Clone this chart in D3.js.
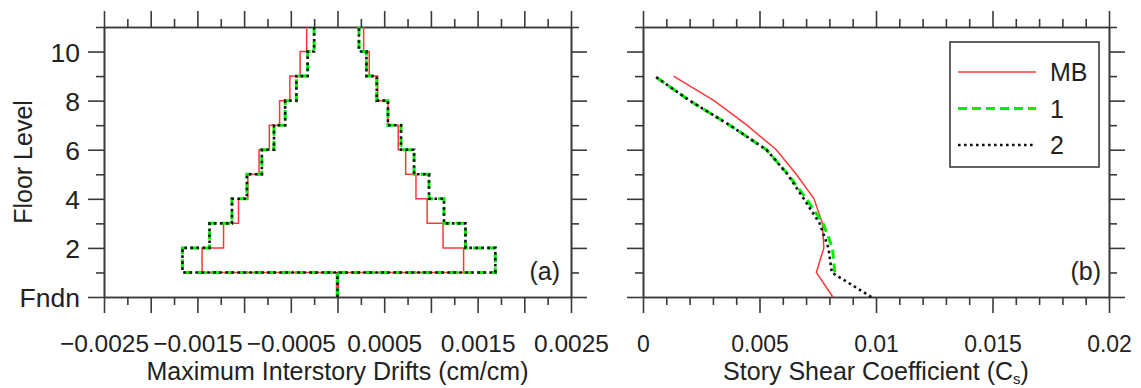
<!DOCTYPE html>
<html><head><meta charset="utf-8">
<script src="https://cdn.jsdelivr.net/npm/d3@7/dist/d3.min.js"></script>
<style>
body{margin:0;background:#fff}
svg{display:block}
text{font-family:"Liberation Sans",Arial,Helvetica,sans-serif;fill:#222}
</style>
</head><body>
<svg id="chart" width="1141" height="388"></svg>
<script>
// ---------- data ----------
// story k spans floor level k .. k+1 (story 0 = foundation to level 1)
const storyBase   = [0, 1, 2, 3, 4, 5, 6, 7, 8, 9, 10];
const driftMBPos  = [0, 0.00135, 0.00113, 0.00096, 0.00084, 0.00073, 0.00065, 0.00054, 0.00043, 0.00034, 0.00028];
const driftMBNeg  = [0, -0.00145, -0.00122, -0.00106, -0.00096, -0.00084, -0.00073, -0.00062, -0.00051, -0.00040, -0.00033];
const drift1Pos   = [0, 0.00169, 0.00137, 0.00114, 0.00098, 0.00082, 0.00068, 0.00054, 0.00042, 0.00031, 0.00023];
const drift1Neg   = [0, -0.00166, -0.00137, -0.00113, -0.00097, -0.00081, -0.00068, -0.00056, -0.00044, -0.00032, -0.00025];
const drift2Pos   = [0, 0.00169, 0.00137, 0.00114, 0.00098, 0.00082, 0.00068, 0.00054, 0.00042, 0.00031, 0.00023];
const drift2Neg   = [0, -0.00166, -0.00137, -0.00113, -0.00097, -0.00081, -0.00068, -0.00056, -0.00044, -0.00032, -0.00025];

const shearFloors = [0, 1, 2, 3, 4, 5, 6, 7, 8, 9];
const shearMB     = [0.00815, 0.00744, 0.00776, 0.00770, 0.00734, 0.00658, 0.00572, 0.00446, 0.00305, 0.00131];
const shear1      = [null, 0.00823, 0.00813, 0.00773, 0.00701, 0.00622, 0.00530, 0.00372, 0.00200, 0.00050];
const shear2      = [0.00980, 0.00810, 0.00796, 0.00758, 0.00690, 0.00620, 0.00530, 0.00372, 0.00200, 0.00050];

const seriesNames = ["MB", "1", "2"];

const floorMajor  = [0, 2, 4, 6, 8, 10];
const floorMinor  = [1, 3, 5, 7, 9, 11];
const floorLabels = ["Fndn", "2", "4", "6", "8", "10"];

const driftMajor  = [-0.0025, -0.002, -0.0015, -0.001, -0.0005, 0, 0.0005, 0.001, 0.0015, 0.002, 0.0025];
const driftMinor  = [-0.00225, -0.00175, -0.00125, -0.00075, -0.00025, 0.00025, 0.00075, 0.00125, 0.00175, 0.00225];
const driftLabelValues = [-0.0025, -0.0015, -0.0005, 0.0005, 0.0015, 0.0025];
const driftLabels = ["\u22120.0025", "\u22120.0015", "\u22120.0005", "0.0005", "0.0015", "0.0025"];

const shearMajor  = [0, 0.005, 0.01, 0.015, 0.02];
const shearMinor  = [0.001, 0.002, 0.003, 0.004, 0.006, 0.007, 0.008, 0.009, 0.011, 0.012, 0.013, 0.014, 0.016, 0.017, 0.018, 0.019];
const shearLabels = ["0", "0.005", "0.01", "0.015", "0.02"];

// ---------- styles ----------
const styles = {
  "MB": {stroke: "#ff3838", width: 1.5, dash: null},
  "1":  {stroke: "#00ee00", width: 3, dash: "9,5"},
  "2":  {stroke: "#111111", width: 2.6, dash: "2.6,3.4"}
};
const axisColor = "#3a3a3a";

const svg = d3.select("#chart");
svg.append("rect").attr("width", 1141).attr("height", 388).attr("fill", "#fff");

const plotTop = 27, plotBottom = 297;
const yScale = d3.scaleLinear().domain([0, 11]).range([plotBottom, plotTop]);
const xLeft  = d3.scaleLinear().domain([-0.0025, 0.0025]).range([104, 571]);
const xRight = d3.scaleLinear().domain([0, 0.02]).range([643, 1109]);

function styleAxis(g) {
  g.selectAll("path.domain").attr("stroke", axisColor).attr("stroke-width", 1.6);
  g.selectAll(".tick line").attr("stroke", axisColor).attr("stroke-width", 1.6);
  g.selectAll("text").remove();
}

function drawFrame(x, y, xMaj, xMin, yMaj, yMin) {
  const [x0, x1] = x.range();
  const [y0, y1] = [plotBottom, plotTop];
  const g = svg.append("g");
  g.append("g").attr("transform", `translate(0,${y0})`)
    .call(d3.axisBottom(x).tickValues(xMin).tickSize(8).tickSizeOuter(0)).call(styleAxis);
  g.append("g").attr("transform", `translate(0,${y0})`)
    .call(d3.axisBottom(x).tickValues(xMaj).tickSize(16).tickSizeOuter(0)).call(styleAxis);
  g.append("g").attr("transform", `translate(0,${y1})`)
    .call(d3.axisTop(x).tickValues(xMin).tickSize(8).tickSizeOuter(0)).call(styleAxis);
  g.append("g").attr("transform", `translate(0,${y1})`)
    .call(d3.axisTop(x).tickValues(xMaj).tickSize(16).tickSizeOuter(0)).call(styleAxis);
  g.append("g").attr("transform", `translate(${x0},0)`)
    .call(d3.axisLeft(y).tickValues(yMin).tickSize(8).tickSizeOuter(0)).call(styleAxis);
  g.append("g").attr("transform", `translate(${x0},0)`)
    .call(d3.axisLeft(y).tickValues(yMaj).tickSize(16).tickSizeOuter(0)).call(styleAxis);
  g.append("g").attr("transform", `translate(${x1},0)`)
    .call(d3.axisRight(y).tickValues(yMin).tickSize(8).tickSizeOuter(0)).call(styleAxis);
  g.append("g").attr("transform", `translate(${x1},0)`)
    .call(d3.axisRight(y).tickValues(yMaj).tickSize(16).tickSizeOuter(0)).call(styleAxis);
  return g;
}

// ---------- panel (a) ----------
drawFrame(xLeft, yScale, driftMajor, driftMinor, floorMajor, floorMinor);

const labA = svg.append("g").attr("transform", `translate(0,${plotBottom})`)
  .call(d3.axisBottom(xLeft).tickValues(driftLabelValues).tickSize(0).tickSizeOuter(0)
    .tickFormat((d, i) => driftLabels[i]));
labA.select("path.domain").remove();
labA.selectAll("text").attr("y", 55).attr("dy", 0).attr("font-size", 24.5)
  .style("font-family", '"Liberation Sans",Arial,sans-serif').attr("fill", "#222");

const labY = svg.append("g").attr("transform", `translate(${xLeft.range()[0]},0)`)
  .call(d3.axisLeft(yScale).tickValues(floorMajor).tickSize(0).tickSizeOuter(0)
    .tickFormat((d, i) => floorLabels[i]));
labY.select("path.domain").remove();
labY.selectAll("text").attr("x", -24).attr("dy", "0.36em").attr("font-size", 26.5)
  .style("font-family", '"Liberation Sans",Arial,sans-serif').attr("fill", "#222");

function driftPoints(pos, neg) {
  const pts = [];
  for (let k = storyBase.length - 1; k >= 1; k--) {
    pts.push([neg[k], storyBase[k] + 1]);
    pts.push([neg[k], storyBase[k]]);
  }
  for (let k = 1; k < storyBase.length; k++) {
    pts.push([pos[k], storyBase[k]]);
    pts.push([pos[k], storyBase[k] + 1]);
  }
  return pts;
}
const lineA = d3.line().x(d => xLeft(d[0])).y(d => yScale(d[1]));
const driftSets = [
  ["MB", driftMBPos, driftMBNeg],
  ["1", drift1Pos, drift1Neg],
  ["2", drift2Pos, drift2Neg]
];
const gA = svg.append("g");
driftSets.forEach(([name, pos, neg]) => {
  const st = styles[name];
  gA.append("path").attr("d", lineA(driftPoints(pos, neg)))
    .attr("fill", "none").attr("stroke", st.stroke).attr("stroke-width", st.width)
    .attr("stroke-dasharray", st.dash);
  gA.append("path").attr("d", lineA([[pos[0], storyBase[0]], [pos[0], storyBase[0] + 1]]))
    .attr("fill", "none").attr("stroke", st.stroke).attr("stroke-width", name === "MB" ? 3.5 : st.width)
    .attr("stroke-dasharray", st.dash);
});

svg.append("text").attr("x", 560).attr("y", yScale(1) + 8).attr("text-anchor", "end")
  .attr("font-size", 25).text("(a)");

// ---------- panel (b) ----------
drawFrame(xRight, yScale, shearMajor, shearMinor, floorMajor, floorMinor);
const labB = svg.append("g").attr("transform", `translate(0,${plotBottom})`)
  .call(d3.axisBottom(xRight).tickValues(shearMajor).tickSize(0).tickSizeOuter(0)
    .tickFormat((d, i) => shearLabels[i]));
labB.select("path.domain").remove();
labB.selectAll("text").attr("y", 55).attr("dy", 0).attr("font-size", 23)
  .style("font-family", '"Liberation Sans",Arial,sans-serif').attr("fill", "#222");

const lineB = d3.line().defined(d => d[0] != null).x(d => xRight(d[0])).y(d => yScale(d[1]));
const shearSets = [["MB", shearMB], ["1", shear1], ["2", shear2]];
const gB = svg.append("g");
shearSets.forEach(([name, vals]) => {
  const st = styles[name];
  gB.append("path").attr("d", lineB(vals.map((v, i) => [v, shearFloors[i]])))
    .attr("fill", "none").attr("stroke", st.stroke).attr("stroke-width", st.width)
    .attr("stroke-dasharray", st.dash);
});

svg.append("text").attr("x", 1101).attr("y", yScale(1) + 8).attr("text-anchor", "end")
  .attr("font-size", 25).text("(b)");

const lg = svg.append("g");
lg.append("rect").attr("x", 950).attr("y", 42).attr("width", 149).attr("height", 125)
  .attr("fill", "#fff").attr("stroke", axisColor).attr("stroke-width", 1.6);
seriesNames.forEach((name, i) => {
  const st = styles[name];
  const yy = 72 + i * 36.5;
  lg.append("line").attr("x1", 958).attr("x2", 1036).attr("y1", yy).attr("y2", yy)
    .attr("stroke", st.stroke).attr("stroke-width", st.width).attr("stroke-dasharray", st.dash);
  lg.append("text").attr("x", 1050).attr("y", yy + 9).attr("font-size", 25).text(name);
});

svg.append("text").attr("x", (xLeft.range()[0] + xLeft.range()[1]) / 2).attr("y", 380)
  .attr("text-anchor", "middle").attr("font-size", 25).text("Maximum Interstory Drifts (cm/cm)");
const tB = svg.append("text").attr("x", (xRight.range()[0] + xRight.range()[1]) / 2).attr("y", 380)
  .attr("text-anchor", "middle").attr("font-size", 25);
tB.append("tspan").text("Story Shear Coefficient (C");
tB.append("tspan").attr("font-size", 15).attr("dy", 3.5).text("s");
tB.append("tspan").attr("dy", -3.5).text(")");
svg.append("text").attr("transform", `translate(32,${(plotTop + plotBottom) / 2}) rotate(-90)`)
  .attr("text-anchor", "middle").attr("font-size", 25).text("Floor Level");
</script>
</body></html>
